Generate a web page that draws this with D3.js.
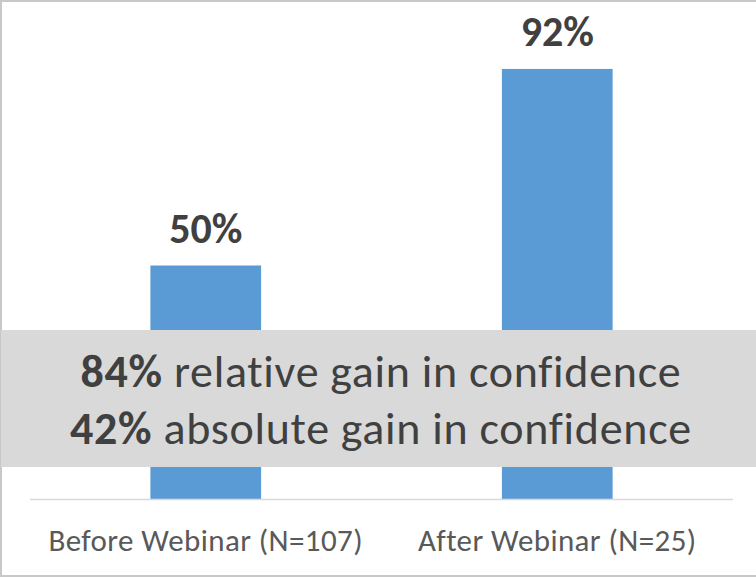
<!DOCTYPE html>
<html>
<head>
<meta charset="utf-8">
<script src="https://cdn.jsdelivr.net/npm/d3@7"></script>
<style>
  html, body { margin: 0; padding: 0; background: #fff; }
  svg { display: block; }
</style>
</head>
<body>
<div id="chart"></div>
<script>
// Chart data
var categories = ["Before Webinar (N=107)", "After Webinar (N=25)"];
var values = [50, 92];
var valueLabels = ["50%", "92%"];
var noteBold = ["84%", "42%"];
var noteText = [" relative gain in confidence", " absolute gain in confidence"];

var width = 756, height = 577;
var fontFamily = "Carlito, Calibri, Lato, sans-serif";

var svg = d3.select('#chart')
  .append('svg')
    .attr('width', width)
    .attr('height', height);

// outer frame (top + left + bottom only)
svg.append("rect")
  .attr("x", 0).attr("y", 0)
  .attr("width", width).attr("height", height)
  .attr("fill", "#fff");
svg.append("path")
  .attr("d", "M" + width + ",1 H1 V576 H" + width)
  .attr("fill", "none")
  .attr("stroke", "#c8c8c8")
  .attr("stroke-width", 2);

// scales
var x = d3.scaleBand()
  .domain(categories)
  .range([30, 733])
  .paddingInner(0.685)
  .paddingOuter(0.3425);

var y = d3.scaleLinear()
  .domain([0, 100])
  .range([499.5, 31.5]);

// bars
svg.selectAll(".bar")
  .data(values)
  .enter().append("rect")
    .attr("class", "bar")
    .attr("x", (d, i) => x(categories[i]))
    .attr("y", d => y(d))
    .attr("width", x.bandwidth())
    .attr("height", d => y(0) - y(d))
    .attr("fill", "#5b9bd5");

// baseline
svg.append("line")
  .attr("x1", 30).attr("x2", 733)
  .attr("y1", y(0)).attr("y2", y(0))
  .attr("stroke", "#d9d9d9")
  .attr("stroke-width", 1.5);

// value labels
svg.selectAll(".val")
  .data(values)
  .enter().append("text")
    .attr("class", "val")
    .attr("x", (d, i) => x(categories[i]) + x.bandwidth() / 2)
    .attr("y", d => y(d) - 23)
    .attr("text-anchor", "middle")
    .style("font-family", fontFamily)
    .style("font-weight", "bold")
    .style("font-size", "42px")
    .attr("fill", "#404040")
    .text((d, i) => valueLabels[i]);

// category axis labels
var xAxis = svg.append("g")
  .attr("transform", `translate(0,${y(0)})`)
  .call(d3.axisBottom(x).tickSize(0).tickPadding(0));
xAxis.select(".domain").remove();
xAxis.selectAll("text")
  .attr("dy", null)
  .attr("y", 51)
  .style("font-family", fontFamily)
  .style("font-size", "31px")
  .style("letter-spacing", "0.4px")
  .attr("fill", "#595959");

// grey annotation band
svg.append("rect")
  .attr("x", 1).attr("y", 330)
  .attr("width", width - 1).attr("height", 137)
  .attr("fill", "#d9d9d9");

var note = svg.append("g");
noteBold.forEach(function(b, i) {
  var t = note.append("text")
    .attr("x", 381)
    .attr("y", 387 + i * 57)
    .attr("text-anchor", "middle")
    .style("font-family", fontFamily)
    .style("font-size", "46px")
    .style("letter-spacing", "0.7px")
    .attr("fill", "#404040");
  t.append("tspan").style("font-weight", "bold").text(b);
  t.append("tspan").text(noteText[i]);
});
</script>
</body>
</html>
